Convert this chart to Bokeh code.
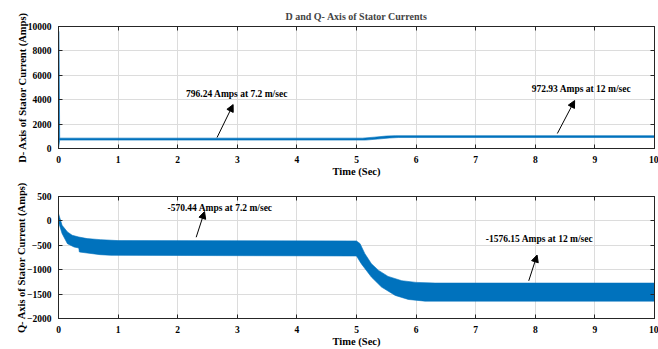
from bokeh.plotting import figure
from bokeh.models import Range1d, LinearAxis, SingleIntervalTicker, Label, Arrow, NormalHead
from bokeh.layouts import column
from bokeh.embed import file_html
from bokeh.resources import INLINE

# ---- data ----
# D-axis current band (upper and lower envelopes)
d_up_t = [0.0, 0.008, 0.02, 5.1, 5.3, 5.5, 5.65, 10.0]
d_up_v = [9600, 9600, 850, 850, 930, 1020, 1050, 1050]
d_lo_t = [0.0, 0.02, 5.15, 5.35, 5.55, 5.7, 10.0]
d_lo_v = [0, 690, 690, 770, 860, 900, 900]

# Q-axis current band (upper and lower envelopes)
q_up_t = [0.0, 0.06, 0.15, 0.23, 0.34, 0.48, 0.7, 1.0, 5.0, 5.06, 5.14, 5.25, 5.37, 5.53, 5.76, 6.0, 6.32, 10.0]
q_up_v = [150, -90, -226, -295, -330, -363, -384, -404, -411, -466, -671, -877, -1014, -1137, -1226, -1260, -1274, -1274]
q_lo_t = [0.0, 0.06, 0.15, 0.26, 0.34, 0.35, 0.48, 0.7, 0.88, 5.0, 5.08, 5.25, 5.42, 5.65, 5.87, 6.15, 10.0]
q_lo_v = [-20, -260, -466, -534, -555, -637, -658, -692, -705, -719, -877, -1151, -1356, -1527, -1610, -1644, -1644]

x_ticks_step = 1
d_tick_step = 2000
q_tick_step = 500

title_text = "D and Q- Axis of Stator Currents"
d_ylabel = "D- Axis of Stator Current (Amps)"
q_ylabel = "Q- Axis of Stator Current (Amps)"
xlabel = "Time (Sec)"

# annotations: (text, text_x, text_y, arrow_x0, arrow_y0, arrow_x1, arrow_y1)
d_notes = [("796.24 Amps at 7.2 m/sec", 2.14, 4500, 2.66, 900, 2.93, 3600),
           ("972.93 Amps at 12 m/sec", 7.94, 4900, 8.37, 1230, 8.66, 3930)]
q_notes = [("-570.44 Amps at 7.2 m/sec", 1.83, 274, 2.31, -335, 2.45, 191),
           ("-1576.15 Amps at 12 m/sec", 7.17, -377, 7.89, -1228, 8.03, -700)]

FONT = "Liberation Serif"
BLUE = "#0072BD"
DARK = "#262626"
GRID = "#dcdcdc"


def style_axis(ax, labels=True, label_standoff=0):
    ax.axis_line_color = DARK
    ax.major_tick_line_color = DARK
    ax.major_tick_in = 4
    ax.major_tick_out = 0
    ax.minor_tick_line_color = None
    ax.major_label_text_font = FONT
    ax.major_label_text_font_style = "bold"
    if labels:
        ax.major_label_text_color = "black"
        ax.major_label_text_font_size = "9.5px"
        ax.major_label_standoff = 3
    else:
        ax.major_label_text_color = None
        ax.major_label_text_font_size = "1px"
        ax.major_label_standoff = 0
    ax.axis_label_text_font = FONT
    ax.axis_label_text_font_style = "bold"
    ax.axis_label_text_font_size = "10.5px"
    ax.axis_label_text_color = "black"
    ax.axis_label_standoff = label_standoff


def make_fig(ymin, ymax, ystep, ylabel, up_t, up_v, lo_t, lo_v, notes, top_border, title=None):
    p = figure(frame_width=596, frame_height=122,
               output_backend="svg", toolbar_location=None,
               x_range=Range1d(0, 10), y_range=Range1d(ymin, ymax),
               min_border_left=58, min_border_right=3, min_border_top=top_border,
               min_border_bottom=0, title=title)
    p.outline_line_color = DARK
    p.background_fill_color = "white"
    p.border_fill_color = "white"
    if title:
        p.title.text_font = FONT
        p.title.text_font_style = "bold"
        p.title.text_font_size = "10px"
        p.title.align = "center"
        p.title.standoff = 1
        p.title.offset = 0
    xt = SingleIntervalTicker(interval=x_ticks_step)
    yt = SingleIntervalTicker(interval=ystep)
    p.xaxis.ticker = xt
    p.yaxis.ticker = yt
    p.xaxis.axis_label = xlabel
    p.yaxis.axis_label = ylabel
    style_axis(p.xaxis[0], label_standoff=0)
    style_axis(p.yaxis[0], label_standoff=-3)
    ra = LinearAxis(ticker=SingleIntervalTicker(interval=ystep))
    style_axis(ra, labels=False)
    p.add_layout(ra, "right")
    ta = LinearAxis(ticker=SingleIntervalTicker(interval=x_ticks_step))
    style_axis(ta, labels=False)
    p.add_layout(ta, "above")
    p.xgrid.ticker = xt
    p.ygrid.ticker = yt
    p.xgrid.grid_line_color = GRID
    p.ygrid.grid_line_color = GRID

    xs = list(up_t) + list(reversed(lo_t))
    ys = list(up_v) + list(reversed(lo_v))
    p.patch(xs, ys, fill_color=BLUE, line_color=BLUE, line_width=0.6)

    for txt, tx, ty, x0, y0, x1, y1 in notes:
        p.add_layout(Label(x=tx, y=ty, text=txt, text_font=FONT, text_font_style="bold",
                           text_font_size="9.5px", text_baseline="middle", text_align="left",
                           text_color="black"))
        p.add_layout(Arrow(end=NormalHead(size=7, fill_color="black", line_color="black"),
                           x_start=x0, y_start=y0, x_end=x1, y_end=y1,
                           line_color="black", line_width=1))
    return p


p1 = make_fig(0, 10000, d_tick_step, d_ylabel, d_up_t, d_up_v, d_lo_t, d_lo_v, d_notes, 26, title=title_text)
p2 = make_fig(-2000, 500, q_tick_step, q_ylabel, q_up_t, q_up_v, q_lo_t, q_lo_v, q_notes, 17)

layout = column(p1, p2, spacing=0)
open("out.html", "w").write(file_html(layout, INLINE))
